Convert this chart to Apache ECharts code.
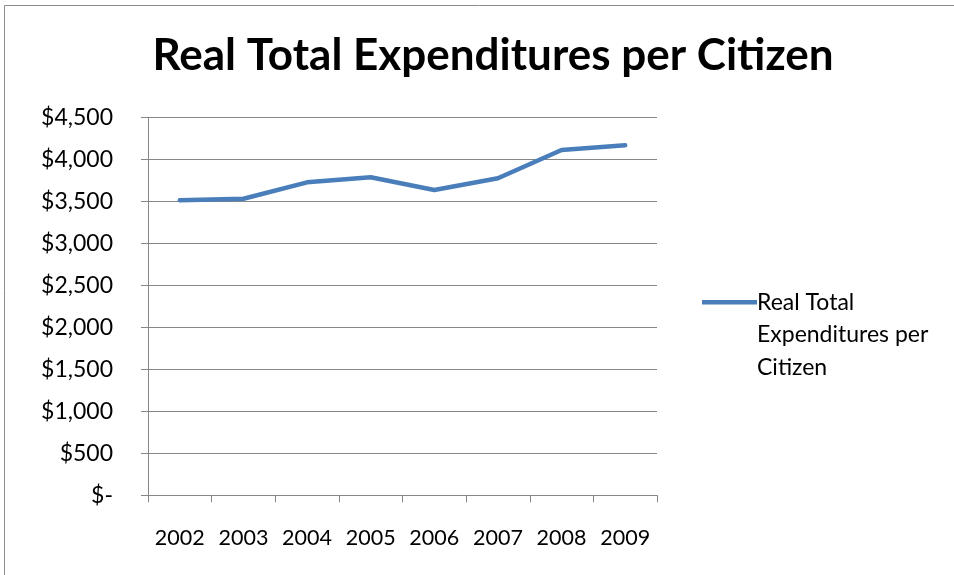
<!DOCTYPE html>
<html>
<head>
<meta charset="utf-8">
<script src="https://cdn.jsdelivr.net/npm/echarts@6/dist/echarts.min.js"></script>
<style>
html,body{margin:0;padding:0;background:#fff;}
#chart{width:954px;height:575px;}
</style>
</head>
<body>
<div id="chart"></div>
<script>
const categories = ['2002','2003','2004','2005','2006','2007','2008','2009'];
const seriesName = 'Real Total Expenditures per Citizen';
const values = [3512, 3530, 3726, 3786, 3635, 3774, 4110, 4167];
const titleText = 'Real Total Expenditures per Citizen';

const FONT = 'Lato';
const chart = echarts.init(document.getElementById('chart'));
chart.setOption({
  animation: false,
  backgroundColor: '#fff',
  graphic: [{
    type: 'polyline',
    shape: { points: [[4.5, 575], [4.5, 5.5], [954, 5.5]] },
    style: { stroke: '#8c8c8c', lineWidth: 1, fill: null },
    silent: true
  }],
  title: {
    text: titleText,
    left: 488, top: 29, textAlign: 'center',
    textStyle: { fontFamily: FONT, fontWeight: 'bold', fontSize: 44, color: '#000' }
  },
  legend: {
    orient: 'vertical',
    left: 697, top: 216,
    itemWidth: 55, itemHeight: 14, itemGap: 0,
    icon: 'path://M0,4.7 L55,4.7 L55,9.3 L0,9.3 Z',
    data: [{ name: seriesName }],
    formatter: function () { return ' \n \nReal Total\nExpenditures per\nCitizen'; },
    textStyle: { fontFamily: FONT, fontSize: 23, color: '#000', lineHeight: 32.5, padding: [0, 0, 0, -5] }
  },
  grid: { left: 148, right: 297, top: 117.3, bottom: 575 - 495.3, containLabel: false },
  xAxis: {
    type: 'category',
    data: categories,
    boundaryGap: true,
    axisLine: { lineStyle: { color: '#868686', width: 1 } },
    axisTick: { show: true, length: 7, inside: false, interval: 0, lineStyle: { color: '#868686' }, alignWithLabel: false },
    axisLabel: { fontFamily: FONT, fontSize: 21.5, color: '#000', margin: 32, interval: 0, hideOverlap: false },
    splitLine: { show: false }
  },
  yAxis: {
    type: 'value',
    min: 0, max: 4500, interval: 500,
    axisLine: { show: true, lineStyle: { color: '#868686', width: 1 } },
    axisTick: { show: true, length: 7, lineStyle: { color: '#868686' } },
    axisLabel: {
      fontFamily: FONT, fontSize: 23, color: '#000', margin: 35,
      formatter: function (v) {
        if (v === 0) return '$-';
        return '$' + v.toLocaleString('en-US');
      }
    },
    splitLine: { show: true, lineStyle: { color: '#868686', width: 1 } }
  },
  series: [{
    name: seriesName,
    type: 'line',
    data: values,
    symbol: 'none',
    lineStyle: { color: '#4a7ebb', width: 4.5, cap: 'round', join: 'round' },
    itemStyle: { color: '#4a7ebb' }
  }]
});
</script>
</body>
</html>
